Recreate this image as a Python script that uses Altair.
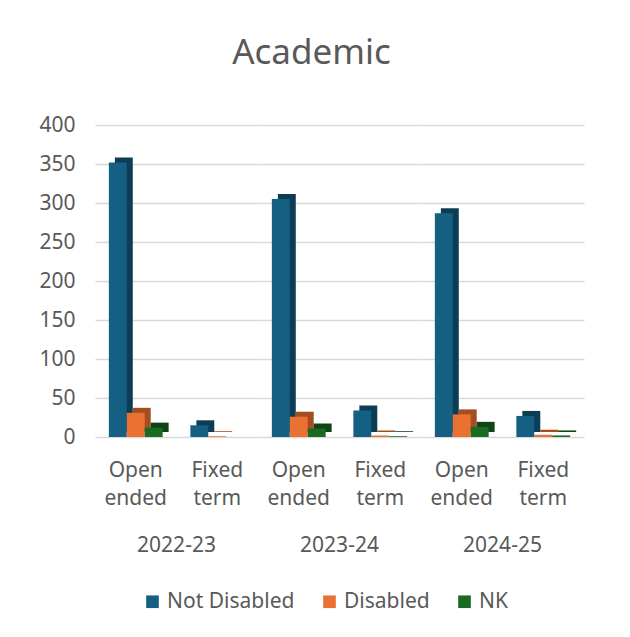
import altair as alt
import pandas as pd

years = ["2022-23", "2023-24", "2024-25"]
types = ["Open ended", "Fixed term"]
series = ["Not Disabled", "Disabled", "NK"]
not_disabled = [352, 15, 305, 34, 287, 27]
disabled = [31, 1, 26, 2, 29, 3]
nk = [12, 0, 11, 1, 13, 2]

front_colors = ["#156082", "#E97132", "#196B24"]
side_colors = ["#0D3D54", "#A44E20", "#0F4516"]
side_keys = [s + " side" for s in series]

rows = []
i = 0
for y in years:
    for t in types:
        for s, vals in zip(series, [not_disabled, disabled, nk]):
            rows.append({"year": y, "type": t, "series": s, "value": vals[i]})
        i += 1
df = pd.DataFrame(rows)

FONT = "Noto Sans"
TXT = "#595959"

PANEL_W = 163
STEP = PANEL_W / 2.0
BAND = STEP * 0.66

x_enc = alt.X("type:N", sort=types, title=None,
              scale=alt.Scale(paddingInner=0.34, paddingOuter=0.17),
              axis=alt.Axis(labelExpr="split(datum.label, ' ')", labelAngle=0,
                            labelFontSize=21, labelColor=TXT, labelFont=FONT,
                            labelLineHeight=28, labelPadding=22,
                            domain=False, ticks=False, grid=False))
y_enc = alt.Y("value:Q", title=None,
              scale=alt.Scale(domain=[0, 400], nice=False),
              axis=alt.Axis(values=list(range(0, 401, 50)), labelFontSize=21,
                            labelColor=TXT, labelFont=FONT, labelPadding=20,
                            domain=False, ticks=False, gridColor="#D9D9D9",
                            gridWidth=1.5))

color_scale = alt.Scale(domain=series + side_keys, range=front_colors + side_colors)
legend = alt.Legend(orient="none", direction="horizontal", values=series,
                    legendX=47, legendY=466, title=None,
                    symbolType="square", symbolSize=160,
                    symbolStrokeWidth=0,
                    labelFontSize=21, labelColor=TXT, labelFont=FONT,
                    columnPadding=24)

side = alt.Chart().transform_calculate(sseries="datum.series + ' side'").mark_bar(yOffset=-5).encode(
    x=x_enc, y=y_enc,
    xOffset=alt.XOffset("series:N", sort=series,
                        scale=alt.Scale(domain=series, range=[6, BAND + 6],
                                        paddingInner=0, paddingOuter=0)),
    color=alt.Color("sseries:N", scale=color_scale, legend=legend, title=None),
)
front = alt.Chart().mark_bar().encode(
    x=x_enc, y=y_enc,
    xOffset=alt.XOffset("series:N", sort=series,
                        scale=alt.Scale(domain=series, range=[0, BAND],
                                        paddingInner=0, paddingOuter=0)),
    color=alt.Color("series:N", scale=color_scale, legend=legend, title=None),
)

chart = alt.layer(side, front, data=df).resolve_scale(xOffset="independent").properties(
    width=PANEL_W, height=312).facet(
    column=alt.Column("year:N", sort=years,
                      header=alt.Header(title=None, labelOrient="bottom",
                                        labelFontSize=21, labelColor=TXT,
                                        labelFont=FONT, labelPadding=27)),
    spacing=0,
).properties(
    title=alt.Title("Academic", fontSize=35, font=FONT, color=TXT,
                    fontWeight="normal", anchor="middle", offset=43),
    padding={"left": 30, "top": 28, "right": 10, "bottom": 10},
).configure_view(stroke=None).configure_scale(bandPaddingInner=0)

chart.save("out.html", embed_options={"renderer": "svg", "actions": False})
